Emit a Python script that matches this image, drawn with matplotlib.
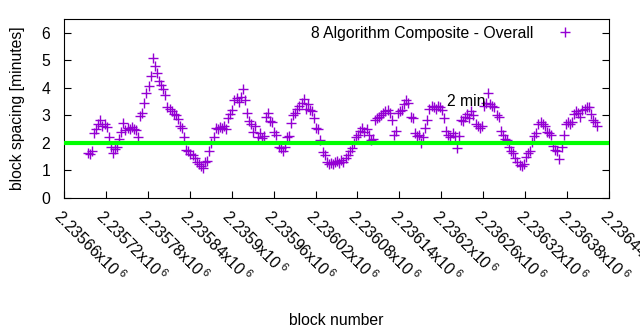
import matplotlib
matplotlib.use("Agg")
import matplotlib.pyplot as plt

plt.rcParams['font.family'] = ['Liberation Sans', 'DejaVu Sans']
plt.rcParams['mathtext.default'] = 'regular'
plt.rcParams['font.size'] = 11.3

# numero do bloco (x) e intervalo entre blocos em minutos (y)
blocks = [
    2235694, 2235697, 2235700, 2235703, 2235706, 2235709, 2235712, 2235715, 2235718, 2235721,
    2235724, 2235727, 2235730, 2235733, 2235736, 2235739, 2235742, 2235745, 2235748, 2235751,
    2235754, 2235757, 2235760, 2235763, 2235766, 2235769, 2235772, 2235775, 2235778, 2235781,
    2235784, 2235787, 2235790, 2235793, 2235796, 2235799, 2235802, 2235805, 2235808, 2235811,
    2235814, 2235817, 2235820, 2235823, 2235826, 2235829, 2235832, 2235835, 2235838, 2235841,
    2235844, 2235847, 2235850, 2235853, 2235856, 2235859, 2235862, 2235865, 2235868, 2235871,
    2235874, 2235877, 2235880, 2235883, 2235886, 2235889, 2235892, 2235895, 2235898, 2235901,
    2235904, 2235907, 2235910, 2235913, 2235916, 2235919, 2235922, 2235925, 2235928, 2235931,
    2235934, 2235937, 2235940, 2235943, 2235946, 2235949, 2235952, 2235955, 2235958, 2235961,
    2235964, 2235967, 2235970, 2235973, 2235976, 2235979, 2235982, 2235985, 2235988, 2235991,
    2235994, 2235997, 2236000, 2236003, 2236006, 2236009, 2236012, 2236015, 2236018, 2236021,
    2236024, 2236027, 2236030, 2236033, 2236036, 2236039, 2236042, 2236045, 2236048, 2236051,
    2236054, 2236057, 2236060, 2236063, 2236066, 2236069, 2236072, 2236075, 2236078, 2236081,
    2236084, 2236087, 2236090, 2236093, 2236096, 2236099, 2236102, 2236105, 2236108, 2236111,
    2236114, 2236117, 2236120, 2236123, 2236126, 2236129, 2236132, 2236135, 2236138, 2236141,
    2236144, 2236147, 2236150, 2236153, 2236156, 2236159, 2236162, 2236165, 2236168, 2236171,
    2236174, 2236177, 2236180, 2236183, 2236186, 2236189, 2236192, 2236195, 2236198, 2236201,
    2236204, 2236207, 2236210, 2236213, 2236216, 2236219, 2236222, 2236225, 2236228, 2236231,
    2236234, 2236237, 2236240, 2236243, 2236246, 2236249, 2236252, 2236255, 2236258, 2236261,
    2236264, 2236267, 2236270, 2236273, 2236276, 2236279, 2236282, 2236285, 2236288, 2236291,
    2236294, 2236297, 2236300, 2236303, 2236306, 2236309, 2236312, 2236315, 2236318, 2236321,
    2236324, 2236327, 2236330, 2236333, 2236336, 2236339, 2236342, 2236345, 2236348, 2236351,
    2236354, 2236357, 2236360, 2236363, 2236366, 2236369, 2236372, 2236375, 2236378, 2236381,
    2236384, 2236387, 2236390, 2236393, 2236396, 2236399, 2236402, 2236405, 2236408, 2236411,
    2236414, 2236417, 2236420, 2236423,
]
spacing = [
    1.65, 1.58, 1.70, 2.35, 2.50, 2.70, 2.82, 2.62, 2.70, 2.58,
    2.22, 1.85, 1.65, 1.78, 1.85, 2.15, 2.40, 2.72, 2.48, 2.55,
    2.50, 2.58, 2.50, 2.48, 2.22, 2.98, 3.10, 3.45, 3.82, 4.05,
    4.42, 5.10, 4.80, 4.55, 4.25, 4.10, 3.95, 3.75, 3.30, 3.22,
    3.15, 3.05, 3.00, 2.88, 2.62, 2.55, 2.20, 1.75, 1.70, 1.60,
    1.55, 1.45, 1.30, 1.25, 1.18, 1.08, 1.30, 1.35, 1.72, 2.00,
    2.20, 2.55, 2.50, 2.58, 2.55, 2.62, 2.52, 2.90, 3.05, 3.20,
    3.55, 3.62, 3.50, 3.65, 3.95, 3.55, 3.10, 2.78, 2.70, 2.40,
    2.60, 2.20, 2.35, 2.18, 2.25, 2.95, 3.08, 2.80, 2.75, 2.40,
    2.30, 1.85, 1.80, 1.70, 1.85, 2.20, 2.25, 2.72, 3.00, 3.10,
    3.25, 3.35, 3.45, 3.60, 3.25, 3.40, 3.20, 3.15, 2.92, 2.55,
    2.50, 2.10, 1.68, 1.55, 1.30, 1.25, 1.28, 1.22, 1.30, 1.35,
    1.28, 1.38, 1.32, 1.45, 1.55, 1.70, 1.80, 2.00, 2.20, 2.30,
    2.45, 2.55, 2.40, 2.50, 2.30, 2.10, 2.15, 2.85, 2.90, 2.95,
    3.00, 3.10, 3.15, 3.20, 3.10, 2.85, 2.30, 2.45, 3.10, 3.15,
    3.20, 3.40, 3.55, 3.45, 2.95, 2.90, 2.35, 2.25, 2.30, 2.00,
    2.20, 2.55, 2.85, 3.25, 3.35, 3.30, 3.25, 3.35, 3.30, 3.20,
    2.90, 2.45, 2.30, 2.20, 2.35, 2.25, 1.80, 2.25, 2.85, 2.80,
    2.95, 3.05, 2.90, 3.15, 3.00, 2.70, 2.60, 2.55, 2.60, 3.35,
    3.45, 3.80, 3.40, 3.35, 3.30, 3.00, 2.95, 2.45, 2.30, 2.15,
    2.10, 1.85, 1.72, 1.65, 1.45, 1.30, 1.20, 1.15, 1.22, 1.50,
    1.62, 1.70, 2.05, 2.25, 2.35, 2.70, 2.75, 2.70, 2.62, 2.40,
    2.35, 2.30, 1.90, 1.75, 1.70, 1.40, 1.85, 2.30, 2.70, 2.75,
    2.68, 2.75, 3.05, 3.15, 3.10, 2.95, 3.20, 3.25, 3.30, 3.30,
    3.05, 2.85, 2.75, 2.62,
]

target = 2.0
xticks = [2235660 + 60 * i for i in range(14)]
xtick_labels = ['2.23566', '2.23572', '2.23578', '2.23584', '2.2359', '2.23596', '2.23602',
                '2.23608', '2.23614', '2.2362', '2.23626', '2.23632', '2.23638', '2.23644']

fig = plt.figure(figsize=(6.4, 3.3), dpi=100)
ax = fig.add_axes([0.1, 0.4, 0.8516, 0.5424])

ax.plot(blocks, spacing, linestyle='none', marker='+', markersize=7, mew=1,
        color='#9400d3', label='8 Algorithm Composite - Overall')
ax.axhline(target, color='#00ff00', lw=3, zorder=3)
ax.text(2236208, 3.5, '2 min', ha='left', va='center', zorder=4)

ax.set_xlim(2235660, 2236440)
ax.set_ylim(0, 6.5)
ax.set_yticks(range(7))
ax.set_xticks(xticks)
ax.set_xticklabels([l + 'x10$\\,^{6}$' for l in xtick_labels], rotation=-45,
                   ha='left', va='top', rotation_mode='anchor')
ax.tick_params(axis='x', direction='in', length=5, top=False, pad=6)
ax.tick_params(axis='y', direction='in', length=5, right=True, pad=10)
ax.set_xlabel('block number', labelpad=20)
ax.set_ylabel('block spacing [minutes]', labelpad=12)

ax.legend(loc='upper right', bbox_to_anchor=(0.962, 0.963), markerfirst=False,
          frameon=False, handlelength=3, handletextpad=0.5, borderaxespad=0, borderpad=0)

fig.savefig('out.png', dpi=100)
